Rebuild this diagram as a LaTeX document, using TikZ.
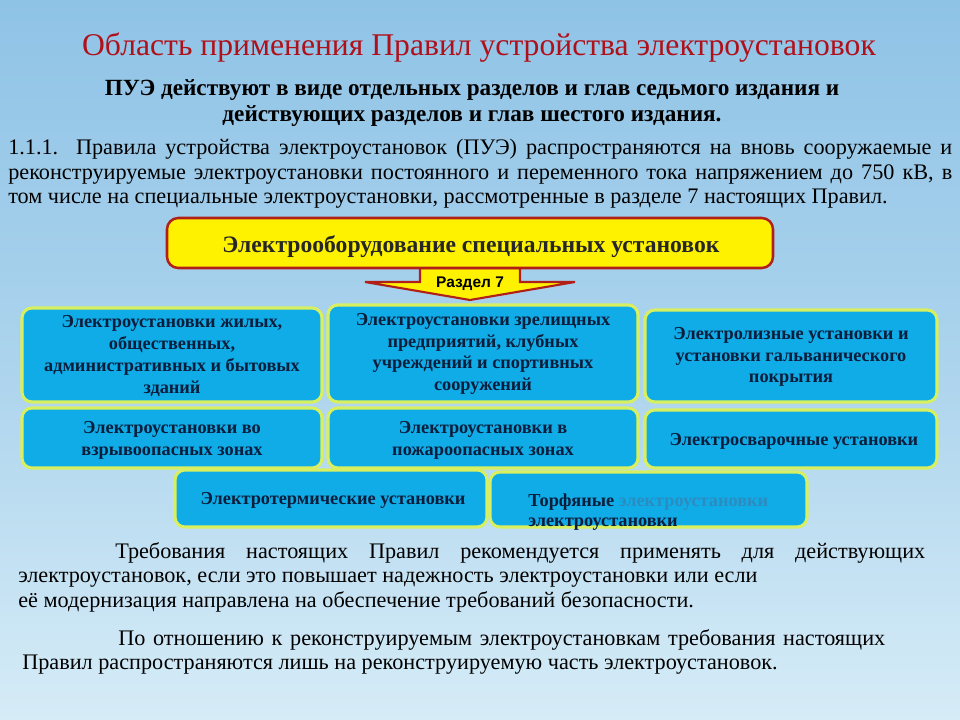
\documentclass[tikz,border=0pt]{standalone}
\usepackage{fontspec}
\setmainfont{Liberation Serif}
\newfontfamily\sansf{Liberation Sans}
\definecolor{bgA}{HTML}{8FC3E6}
\definecolor{bgB}{HTML}{D6ECF7}
\definecolor{titred}{HTML}{B0101A}
\definecolor{boxblue}{HTML}{10ACE8}
\definecolor{boxedge}{HTML}{D8F060}
\definecolor{yel}{HTML}{FFF200}
\definecolor{redge}{HTML}{B02018}
\definecolor{dtext}{HTML}{0A1E3C}
\definecolor{faint}{HTML}{2C8CC0}
\tikzset{
  bluebox/.style={draw=boxedge,line width=2.2pt,fill=boxblue,rounded corners=7pt},
  btext/.style={font=\fontsize{13}{15.5}\selectfont\bfseries,text=dtext,align=center},
  para/.style={anchor=north west,inner sep=0pt,font=\fontsize{15.8}{17.5}\selectfont,align=justify}
}
\begin{document}
\begin{tikzpicture}[x=0.025cm,y=-0.025cm]
\shade[top color=bgA,bottom color=bgB,middle color=bgA!60!bgB] (0,0) rectangle (960,720);
\useasboundingbox (0,0) rectangle (960,720);
\node (title) at (479,48) {\fontsize{22.5}{24}\selectfont\color{titred}Область применения Правил устройства электроустановок};
\node (sub) at (472,103) [align=center,font=\fontsize{16.5}{19}\selectfont\bfseries] {ПУЭ действуют в виде отдельных разделов и глав седьмого издания и\\действующих разделов и глав шестого издания.};
\node (p1) [para,text width=944*0.025cm] at (8,139) {1.1.1. Правила устройства электроустановок (ПУЭ) распространяются на вновь сооружаемые и\linebreak реконструируемые электроустановки постоянного и переменного тока напряжением до 750 кВ, в\linebreak том числе на специальные электроустановки, рассмотренные в разделе 7 настоящих Правил.};
% arrow
\draw[fill=yel,draw=redge,line width=1.5pt] (420,268) -- (520,268) -- (520,282) -- (575,282) -- (470,300) -- (365,282) -- (420,282) -- cycle;
\node (r7) at (470,284) {\sansf\bfseries\fontsize{11}{12}\selectfont Раздел 7};
\draw[fill=yel,draw=redge,line width=1.8pt,rounded corners=8pt] (167,218) rectangle (773,268);
\node (top) at (471,247) {\fontsize{16.8}{18}\selectfont\bfseries\color{black!85}Электрооборудование специальных установок};
% boxes
\draw[bluebox] (22,308) rectangle (322,402);
\node[btext] (b1) at (172,356) {Электроустановки жилых,\\общественных,\\административных и бытовых\\зданий};
\draw[bluebox] (328,305) rectangle (638,402);
\node[btext] (b2) at (483,354) {Электроустановки зрелищных\\предприятий, клубных\\учреждений и спортивных\\сооружений};
\draw[bluebox] (645,310) rectangle (937,402);
\node[btext] (b3) at (791,357) {Электролизные установки и\\установки гальванического\\покрытия};
\draw[bluebox] (22,408) rectangle (322,468);
\node[btext] (b4) at (172,440) {Электроустановки во\\взрывоопасных зонах};
\draw[bluebox] (328,408) rectangle (638,468);
\node[btext] (b5) at (483,440) {Электроустановки в\\пожароопасных зонах};
\draw[bluebox] (645,410) rectangle (937,468);
\node[btext] (b6) at (794,441) {Электросварочные установки};
\draw[bluebox] (175,470) rectangle (487,527);
\node[btext] (b7) at (333,500) {Электротермические установки};
\draw[bluebox] (490,472) rectangle (807,527);
\node[btext,anchor=west,inner sep=0pt] (b8) at (528,502) {Торфяные {\color{faint}электроустановки}};
\node[btext,anchor=west,inner sep=0pt] (b8b) at (528,524) {электроустановки};
\node (p2) [para,text width=907*0.025cm] at (18,542) {\hspace*{97\dimexpr0.025cm\relax}Требования настоящих Правил рекомендуется применять для действующих\linebreak электроустановок, если это повышает надежность электроустановки или если\hspace*{40\dimexpr0.025cm\relax}\\ её модернизация направлена на обеспечение требований безопасности.};
\node (p3) [para,text width=863*0.025cm] at (22,629) {\hspace*{96\dimexpr0.025cm\relax}По отношению к реконструируемым электроустановкам требования настоящих\linebreak Правил распространяются лишь на реконструируемую часть электроустановок.};
\end{tikzpicture}
\end{document}
